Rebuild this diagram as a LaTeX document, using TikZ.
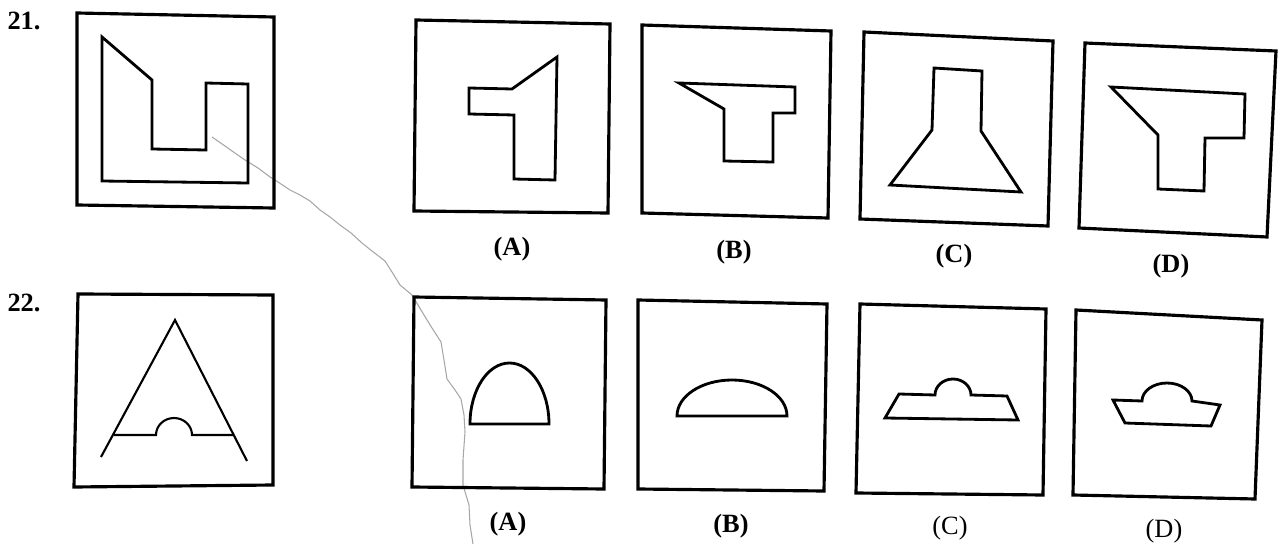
\documentclass[tikz,border=0pt]{standalone}
\usepackage{fontspec}
\setmainfont{Liberation Serif}
\usepackage{tikz}
\usetikzlibrary{positioning,calc}

\begin{document}
\begin{tikzpicture}[x=0.02cm, y=-0.02cm,
  frame/.style={line width=1.8pt, line join=miter},
  fig/.style={line width=1.6pt, line join=miter},
  thinfig/.style={line width=1.2pt},
  qnum/.style={font=\bfseries\fontsize{15}{15}\selectfont},
  lbl/.style={font=\bfseries\fontsize{15}{15}\selectfont},
  plainlbl/.style={font=\fontsize{15}{15}\selectfont},
  crack/.style={gray!70, line width=0.6pt}
]
\useasboundingbox (0,0) rectangle (1279,544);

% Question numbers
\node[qnum] (q21) at (24,21)  {21.};
\node[qnum] (q22) at (24,303) {22.};

% Paper crack
\draw[crack] (212,137) -- (225,146) -- (232,151) -- (245,160) -- (258,168) -- (270,177)
  -- (278,182) -- (290,190) -- (300,195) -- (310,201) -- (320,210) -- (330,217)
  -- (340,225) -- (351,233) -- (362,243) -- (372,251) -- (385,261) -- (392,272)
  -- (400,285) -- (412,295) -- (418,305) -- (424,315) -- (432,328) -- (441,342)
  -- (444,360) -- (447,379) -- (455,390) -- (461,399) -- (464,415) -- (465,432)
  -- (463,460) -- (463,485) -- (469,505) -- (470,525) -- (473,544);

% Row 21: frames
\draw[frame] (77,13)   -- (274,17)  -- (274,208) -- (77,205)   -- cycle;
\draw[frame] (416,20)  -- (610,24)  -- (608,213) -- (414,211)  -- cycle;
\draw[frame] (642,25)  -- (831,31)  -- (828,218) -- (642,213)  -- cycle;
\draw[frame] (864,32)  -- (1053,41) -- (1048,226) -- (860,219) -- cycle;
\draw[frame] (1085,43) -- (1276,51) -- (1267,237) -- (1079,228) -- cycle;

% Row 21: figures
\draw[fig] (102,37) -- (152,80) -- (152,149) -- (206,150) -- (206,83)
  -- (248,84) -- (248,183) -- (102,181) -- cycle;
\draw[fig] (469,88) -- (512,89) -- (557,57) -- (555,180) -- (514,179)
  -- (514,115) -- (469,114) -- cycle;
\draw[fig] (679,83) -- (795,87) -- (795,113) -- (773,113) -- (773,162)
  -- (724,161) -- (724,109) -- cycle;
\draw[fig] (934,68) -- (982,71) -- (981,131) -- (1021,192) -- (890,185)
  -- (932,130) -- cycle;
\draw[fig] (1111,87) -- (1245,94) -- (1244,138) -- (1205,138) -- (1204,191)
  -- (1158,189) -- (1158,135) -- cycle;

% Row 21: option labels
\node[lbl] (a21) at (512,249)  {(A)};
\node[lbl] (b21) at (734,252)  {(B)};
\node[lbl] (c21) at (954,256)  {(C)};
\node[lbl] (d21) at (1171,266) {(D)};

% Row 22: frames
\draw[frame] (78,294)   -- (273,295)  -- (273,485)  -- (74,487)   -- cycle;
\draw[frame] (414,297)  -- (606,300)  -- (604,489)  -- (412,487)  -- cycle;
\draw[frame] (638,300)  -- (827,304)  -- (824,491)  -- (638,489)  -- cycle;
\draw[frame] (860,304)  -- (1046,309) -- (1043,495) -- (856,493)  -- cycle;
\draw[frame] (1076,310) -- (1262,320) -- (1255,499) -- (1073,495) -- cycle;

% Row 22: figures
\draw[thinfig] (101,457) -- (175,320) -- (247,461);
\draw[thinfig] (114,435) -- (156,435)
  arc[start angle=180, end angle=360, x radius=18, y radius=17] -- (233,435);
\draw[fig] (470,424) arc[start angle=180, end angle=360, x radius=39.5, y radius=61] -- cycle;
\draw[fig] (677,416) arc[start angle=180, end angle=360, x radius=55, y radius=36] -- cycle;
\draw[fig] (885,418) -- (899,394) -- (935,395)
  arc[start angle=180, end angle=360, x radius=18, y radius=16]
  -- (1007,396) -- (1018,420) -- cycle;
\draw[fig] (1113,400) -- (1142,401)
  arc[start angle=180, end angle=360, x radius=25, y radius=18]
  -- (1220,405) -- (1211,426) -- (1125,423) -- cycle;

% Row 22: option labels
\node[lbl]      (a22) at (508,524)  {(A)};
\node[lbl]      (b22) at (731,526)  {(B)};
\node[plainlbl] (c22) at (950,528)  {(C)};
\node[plainlbl] (d22) at (1164,531) {(D)};

\end{tikzpicture}
\end{document}
